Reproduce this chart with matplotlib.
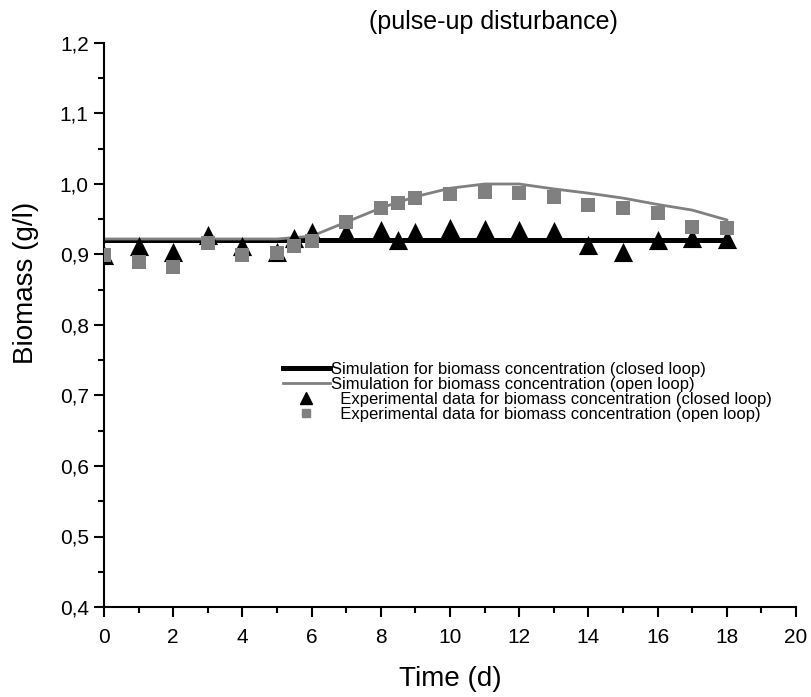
import matplotlib
matplotlib.use("Agg")
import matplotlib.pyplot as plt
from matplotlib.ticker import FuncFormatter, MultipleLocator
from matplotlib.lines import Line2D

plt.rcParams["font.family"] = ["Liberation Sans", "DejaVu Sans"]

# simulation curves
sim_time = [0, 1, 2, 3, 4, 5, 6, 7, 8, 9, 10, 11, 12, 13, 14, 15, 16, 17, 18]
sim_closed = [0.92] * 19
sim_open = [0.922, 0.922, 0.922, 0.922, 0.922, 0.922, 0.926, 0.946, 0.966, 0.982,
            0.994, 1.0, 1.0, 0.993, 0.987, 0.98, 0.971, 0.963, 0.949]

# experimental points
exp_time = [0, 1, 2, 3, 4, 5, 5.5, 6, 7, 8, 8.5, 9, 10, 11, 12, 13, 14, 15, 16, 17, 18]
exp_closed = [0.900, 0.912, 0.904, 0.928, 0.912, 0.903, 0.923, 0.932, 0.932, 0.935, 0.920,
              0.932, 0.938, 0.936, 0.935, 0.933, 0.913, 0.904, 0.921, 0.923, 0.922]
exp_open = [0.900, 0.889, 0.882, 0.916, 0.900, 0.902, 0.912, 0.919, 0.946, 0.966, 0.973,
            0.980, 0.986, 0.989, 0.987, 0.982, 0.970, 0.966, 0.959, 0.939, 0.937]

fig = plt.figure(figsize=(8.11, 6.97), dpi=100)
ax = fig.add_axes([104 / 811, 1 - 607 / 697, 692 / 811, 564 / 697])

ax.plot(sim_time, sim_closed, color="black", lw=3.6, zorder=2)
ax.plot(sim_time, sim_open, color="#808080", lw=2, zorder=2)
ax.scatter(exp_time, exp_closed, marker="^", s=190, color="black", zorder=3, linewidths=0)
ax.scatter(exp_time, exp_open, marker="s", s=95, color="#808080", zorder=4, linewidths=0)

ax.set_xlim(0, 20)
ax.set_ylim(0.4, 1.2)
for side in ("top", "right"):
    ax.spines[side].set_visible(False)
for side in ("left", "bottom"):
    ax.spines[side].set_linewidth(1.5)

ax.xaxis.set_major_locator(MultipleLocator(2))
ax.xaxis.set_minor_locator(MultipleLocator(1))
ax.yaxis.set_major_locator(MultipleLocator(0.1))
ax.yaxis.set_minor_locator(MultipleLocator(0.05))
ax.yaxis.set_major_formatter(FuncFormatter(lambda v, _: f"{v:.1f}".replace(".", ",")))
ax.tick_params(which="major", direction="out", length=7, width=1.5, labelsize=15, pad=4)
ax.tick_params(which="minor", direction="out", length=4, width=1.5)
ax.tick_params(axis="x", pad=8)

ax.set_xlabel("Time (d)", fontsize=20, labelpad=14)
ax.set_ylabel("Biomass (g/l)", fontsize=20)
ax.yaxis.set_label_coords(-0.094, 0.574)
fig.text(493 / 811, 1 - 22 / 697, "(pulse-up disturbance)", fontsize=18, ha="center", va="center")

handles = [
    Line2D([], [], color="black", lw=3.6),
    Line2D([], [], color="#808080", lw=2),
    Line2D([], [], marker="^", ls="none", color="black", markersize=8),
    Line2D([], [], marker="s", ls="none", color="#808080", markersize=6),
]
labels = [
    "Simulation for biomass concentration (closed loop)",
    "Simulation for biomass concentration (open loop)",
    "  Experimental data for biomass concentration (closed loop)",
    "  Experimental data for biomass concentration (open loop)",
]
ax.legend(handles, labels, loc="upper left", bbox_to_anchor=(179 / 692, (607 - 362) / 564),
          frameon=False, fontsize=12, handlelength=2.8, handletextpad=0.1,
          labelspacing=0.0, borderaxespad=0, borderpad=0)

fig.savefig("out.png", dpi=100)
